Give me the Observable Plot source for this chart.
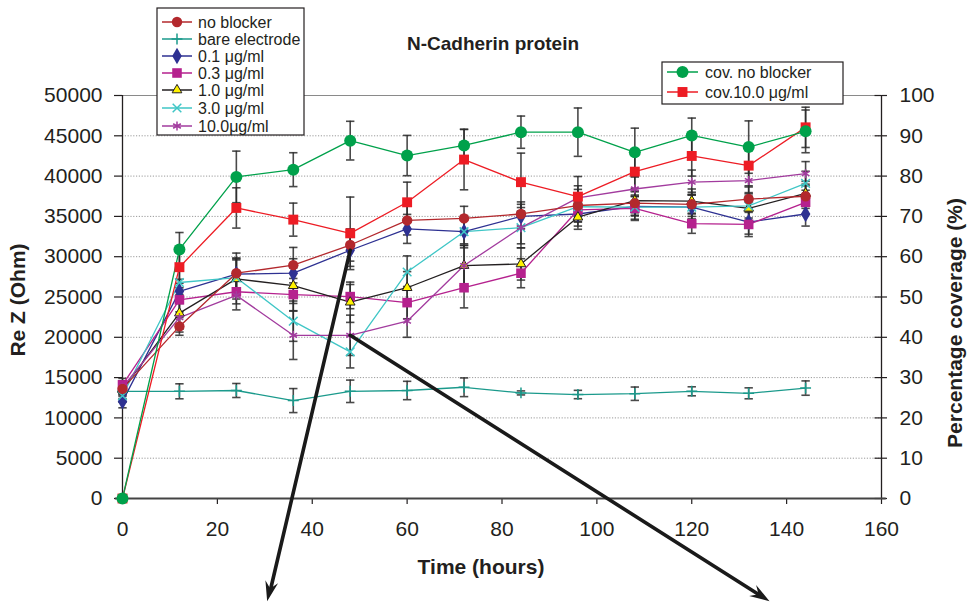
<!DOCTYPE html>
<html><head><meta charset="utf-8">
<script src="https://cdn.jsdelivr.net/npm/d3@7"></script>
<script src="https://cdn.jsdelivr.net/npm/@observablehq/plot@0.6"></script>
<style>
body{margin:0;background:#fff;}
#chart{position:relative;width:972px;height:603px;}
</style>
</head><body><div id="chart"></div>
<script>
// ---- data ----
const times = [0, 12, 24, 36, 48, 60, 72, 84, 96, 108, 120, 132, 144];
const xTicks = [0, 20, 40, 60, 80, 100, 120, 140, 160];
const yTicks = [0, 5000, 10000, 15000, 20000, 25000, 30000, 35000, 40000, 45000, 50000];
const pctTicks = [0, 10, 20, 30, 40, 50, 60, 70, 80, 90, 100];

const noBlocker     = [13600, 21350, 27950, 28950, 31450, 34500, 34750, 35300, 36350, 36650, 36500, 37150, 37500];
const bareElectrode = [13300, 13300, 13400, 12150, 13300, 13400, 13800, 13100, 12900, 13000, 13300, 13050, 13700];
const conc01        = [12050, 25700, 27850, 27950, 30800, 33450, 33100, 35000, 35300, 36250, 36150, 34300, 35300];
const conc03        = [14100, 24650, 25650, 25300, 25050, 24300, 26150, 27950, 35800, 36000, 34100, 34000, 36750];
const conc10        = [13500, 23000, 27250, 26400, 24350, 26150, 28900, 29100, 34900, 36950, 36900, 36000, 37850];
const conc30        = [12750, 26800, 27400, 22000, 18200, 28100, 33100, 33600, 36200, 36150, 36150, 36300, 39100];
const conc100       = [13800, 22450, 25200, 20250, 20250, 22000, 28900, 33600, 37300, 38400, 39250, 39450, 40300];
const covNoBlocker  = [0, 61.8, 79.8, 81.6, 88.8, 85.1, 87.6, 90.9, 90.9, 85.9, 90.1, 87.2, 91.1];
const cov100        = [0, 57.4, 72.1, 69.2, 65.8, 73.5, 84.1, 78.5, 74.9, 81.1, 85.0, 82.6, 92.1];

const noBlockerErr  = [600, 1100, 2500, 2200, 2000, 1800, 1500, 1500, 2000, 1500, 1500, 1500, 1500];
const bareErr       = [900, 930, 870, 1490, 1390, 1140, 1160, 250, 520, 830, 560, 680, 890];
const conc01Err     = [800, 1500, 2000, 1800, 2000, 1800, 1500, 1500, 1500, 1200, 1500, 1500, 1500];
const conc03Err     = [800, 1500, 1500, 2000, 1500, 2000, 2500, 1800, 1500, 1500, 1200, 1500, 1500];
const conc10Err     = [800, 2000, 2500, 2200, 2500, 2000, 2500, 2000, 1500, 1500, 1500, 1500, 1500];
const conc30Err     = [800, 1500, 2200, 2500, 2000, 2000, 2000, 2000, 1500, 1500, 1500, 1500, 1500];
const conc100Err    = [800, 1800, 1800, 3000, 2500, 2000, 2500, 2500, 1500, 1500, 1500, 1500, 1500];
const covNoBlockerErr = [0, 4.2, 6.4, 4.2, 4.8, 5.0, 4.0, 4.0, 6.0, 6.0, 4.3, 6.5, 5.3];
const cov100Err       = [0, 4.0, 5.0, 4.1, 9.0, 5.0, 7.5, 7.2, 5.0, 5.0, 5.0, 5.0, 5.0];

// annotation arrows (data coordinates: hours, Ohm)
const arrows = [
  {x1: 48, y1: 30800, x2: 30.6, y2: -12800},
  {x1: 48, y1: 20250, x2: 136.5, y2: -12800}
];

const OHM_PER_PCT = 500; // right axis: 100 % == 50000 Ohm

// ---- series styles ----
const series = [
  {name: "bare electrode", values: bareElectrode, err: bareErr, scale: 1, color: "#1b9a8c", symbol: "plus", r: 3.6, fill: "none", mstroke: "#1b9a8c"},
  {name: "0.1 \u03bcg/ml", values: conc01, err: conc01Err, scale: 1, color: "#2e3192", symbol: "diamond", r: 5.0, fill: "#2e3192", mstroke: "none"},
  {name: "0.3 \u03bcg/ml", values: conc03, err: conc03Err, scale: 1, color: "#b5218e", symbol: "square", r: 5.4, fill: "#b5218e", mstroke: "none"},
  {name: "1.0 \u03bcg/ml", values: conc10, err: conc10Err, scale: 1, color: "#231f20", symbol: "triangle", r: 3.6, fill: "#fff200", mstroke: "#231f20"},
  {name: "3.0 \u03bcg/ml", values: conc30, err: conc30Err, scale: 1, color: "#3fc6c6", symbol: "times", r: 4.0, fill: "none", mstroke: "#3fc6c6"},
  {name: "10.0\u03bcg/ml", values: conc100, err: conc100Err, scale: 1, color: "#a23b9e", symbol: "asterisk", r: 4.2, fill: "none", mstroke: "#a23b9e"},
  {name: "no blocker", values: noBlocker, err: noBlockerErr, scale: 1, color: "#b3282d", symbol: "circle", r: 5.2, fill: "#b3282d", mstroke: "none"},
  {name: "cov.10.0 \u03bcg/ml", values: cov100, err: cov100Err, scale: OHM_PER_PCT, color: "#ed1c24", symbol: "square", r: 5.6, fill: "#ed1c24", mstroke: "none"},
  {name: "cov. no blocker", values: covNoBlocker, err: covNoBlockerErr, scale: OHM_PER_PCT, color: "#00a14b", symbol: "circle", r: 6, fill: "#00a14b", mstroke: "none"}
];
const leftLegendOrder = ["no blocker", "bare electrode", "0.1 \u03bcg/ml", "0.3 \u03bcg/ml", "1.0 \u03bcg/ml", "3.0 \u03bcg/ml", "10.0\u03bcg/ml"];
const rightLegendOrder = ["cov. no blocker", "cov.10.0 \u03bcg/ml"];

// ---- build rows ----
const rowsBySeries = series.map(s => times.map((t, i) => ({
  t, y: s.values[i] * s.scale, lo: (s.values[i] - s.err[i]) * s.scale, hi: (s.values[i] + s.err[i]) * s.scale, err: s.err[i]
})));
const errRows = [];
series.forEach((s, k) => rowsBySeries[k].forEach(d => { if (d.err > 0) errRows.push(d); }));

const capSymbol = {draw(ctx, size) { const r = Math.sqrt(size / Math.PI); ctx.moveTo(-r, 0); ctx.lineTo(r, 0); }};
const innerTick = {draw(ctx, size) { const r = Math.sqrt(size / Math.PI); ctx.moveTo(-r, 0); ctx.lineTo(0, 0); }};

const marks = [
  Plot.gridY(yTicks.slice(1, -1), {stroke: "#9a9a9a", strokeOpacity: 1, strokeDasharray: "1.2,1.6", strokeWidth: 1}),
  Plot.ruleY([50000], {stroke: "#8a8a8a", strokeWidth: 1.2}),
  Plot.axisY({anchor: "left", ticks: yTicks, tickFormat: d => String(d), tickSize: 8, tickPadding: 12, fontSize: 21, label: null, stroke: "#231f20", strokeWidth: 1.2}),
  Plot.axisY({anchor: "right", ticks: pctTicks.map(p => p * OHM_PER_PCT), tickFormat: v => String(v / OHM_PER_PCT), tickSize: 5, tickPadding: 13, fontSize: 21, label: null, stroke: "#231f20", strokeWidth: 1.2}),
  Plot.dot(pctTicks.map(p => p * OHM_PER_PCT), {x: () => 160, y: d => d, symbol: innerTick, r: 7, stroke: "#231f20", strokeWidth: 1.2}),
  Plot.axisX({ticks: xTicks, tickFormat: d => String(d), tickSize: 6, tickPadding: 17, fontSize: 21, label: null, stroke: "#231f20", strokeWidth: 1.2}),
  Plot.ruleX([0], {stroke: "#231f20", strokeWidth: 1.3}),
  Plot.ruleX([160], {stroke: "#231f20", strokeWidth: 1.3}),
  Plot.ruleY([0], {x1: -1.5, x2: 161, stroke: "#444", strokeWidth: 2}),
  // error bars
  Plot.ruleX(errRows, {x: "t", y1: "lo", y2: "hi", stroke: "#2a2a2a", strokeWidth: 1.6, strokeOpacity: 0.85}),
  Plot.dot(errRows, {x: "t", y: "lo", symbol: capSymbol, r: 4.2, stroke: "#2a2a2a", strokeWidth: 1.6, strokeOpacity: 0.85}),
  Plot.dot(errRows, {x: "t", y: "hi", symbol: capSymbol, r: 4.2, stroke: "#2a2a2a", strokeWidth: 1.6, strokeOpacity: 0.85})
];
series.forEach((s, k) => {
  marks.push(Plot.line(rowsBySeries[k], {x: "t", y: "y", stroke: s.color, strokeWidth: 1.3}));
});
series.forEach((s, k) => {
  marks.push(Plot.dot(rowsBySeries[k], {x: "t", y: "y", symbol: s.symbol, r: s.r, fill: s.fill, stroke: s.mstroke, strokeWidth: s.fill === "none" ? 1.5 : 1}));
});
// arrow shafts (heads added below as filled triangles)
marks.push(Plot.arrow(arrows, {x1: "x1", y1: "y1", x2: "x2", y2: "y2", stroke: "#1a1a1a", strokeWidth: 3.6, headLength: 0, insetEnd: 12}));

const chart = Plot.plot({
  width: 972, height: 603,
  marginLeft: 122, marginRight: 91, marginTop: 95, marginBottom: 105,
  x: {domain: [0, 160]},
  y: {domain: [0, 50000]},
  style: {fontFamily: "'Liberation Sans', Arial, sans-serif", color: "#231f20", background: "#fff", overflow: "visible"},
  marks
});
document.getElementById("chart").appendChild(chart);

// ---- titles, arrowheads & legends ----
const svg = d3.select(chart);
const F = "'Liberation Sans', Arial, sans-serif";
const sx = chart.scale("x"), sy = chart.scale("y");
arrows.forEach(a => {
  const X1 = sx.apply(a.x1), Y1 = sy.apply(a.y1), X2 = sx.apply(a.x2), Y2 = sy.apply(a.y2);
  const ang = Math.atan2(Y2 - Y1, X2 - X1);
  const L = 20, W = 6.5;
  const bx = X2 - L * Math.cos(ang), by = Y2 - L * Math.sin(ang);
  const px = -Math.sin(ang) * W, py = Math.cos(ang) * W;
  svg.append("path")
    .attr("d", `M${X2},${Y2}L${bx + px},${by + py}L${bx + 0.35 * L * Math.cos(ang)},${by + 0.35 * L * Math.sin(ang)}L${bx - px},${by - py}Z`)
    .attr("fill", "#1a1a1a");
});
svg.append("text").attr("x", 493).attr("y", 50).attr("text-anchor", "middle")
  .attr("font-family", F).attr("font-weight", "bold").attr("font-size", 19).attr("fill", "#231f20").text("N-Cadherin protein");
svg.append("text").attr("x", 481).attr("y", 574).attr("text-anchor", "middle")
  .attr("font-family", F).attr("font-weight", "bold").attr("font-size", 21).attr("fill", "#231f20").text("Time (hours)");
svg.append("text").attr("transform", "translate(25,300) rotate(-90)").attr("text-anchor", "middle")
  .attr("font-family", F).attr("font-weight", "bold").attr("font-size", 21).attr("fill", "#231f20").text("Re Z (Ohm)");
svg.append("text").attr("transform", "translate(962,323) rotate(-90)").attr("text-anchor", "middle")
  .attr("font-family", F).attr("font-weight", "bold").attr("font-size", 21).attr("fill", "#231f20").text("Percentage coverage (%)");

const symMap = {circle: d3.symbolCircle, plus: d3.symbolPlus, diamond: d3.symbolDiamond, square: d3.symbolSquare, triangle: d3.symbolTriangle, times: d3.symbolTimes, asterisk: d3.symbolAsterisk};
function legend(order, box, rowY, lineX1, lineX2, textX) {
  const g = svg.append("g").attr("text-anchor", "start");
  g.append("rect").attr("x", box[0]).attr("y", box[1]).attr("width", box[2]).attr("height", box[3])
    .attr("fill", "#fff").attr("stroke", "#231f20").attr("stroke-width", 1.2);
  order.forEach((name, i) => {
    const s = series.find(d => d.name === name);
    const y = rowY[i];
    g.append("line").attr("x1", lineX1).attr("x2", lineX2).attr("y1", y).attr("y2", y).attr("stroke", s.color).attr("stroke-width", 1.5);
    g.append("path").attr("d", d3.symbol(symMap[s.symbol], Math.PI * s.r * s.r)())
      .attr("transform", `translate(${(lineX1 + lineX2) / 2},${y})`)
      .attr("fill", s.fill).attr("stroke", s.mstroke).attr("stroke-width", s.fill === "none" ? 1.5 : 1);
    g.append("text").attr("x", textX).attr("y", y).attr("dy", "0.36em").attr("text-anchor", "start")
      .attr("font-family", F).attr("font-size", 16).attr("fill", "#231f20").text(name);
  });
}
legend(leftLegendOrder, [157, 8, 147, 127], [22, 39, 56, 73, 90, 108, 126], 162, 192, 198);
legend(rightLegendOrder, [662, 62, 181, 42], [72, 92], 667, 698, 705);
</script>
</body></html>
